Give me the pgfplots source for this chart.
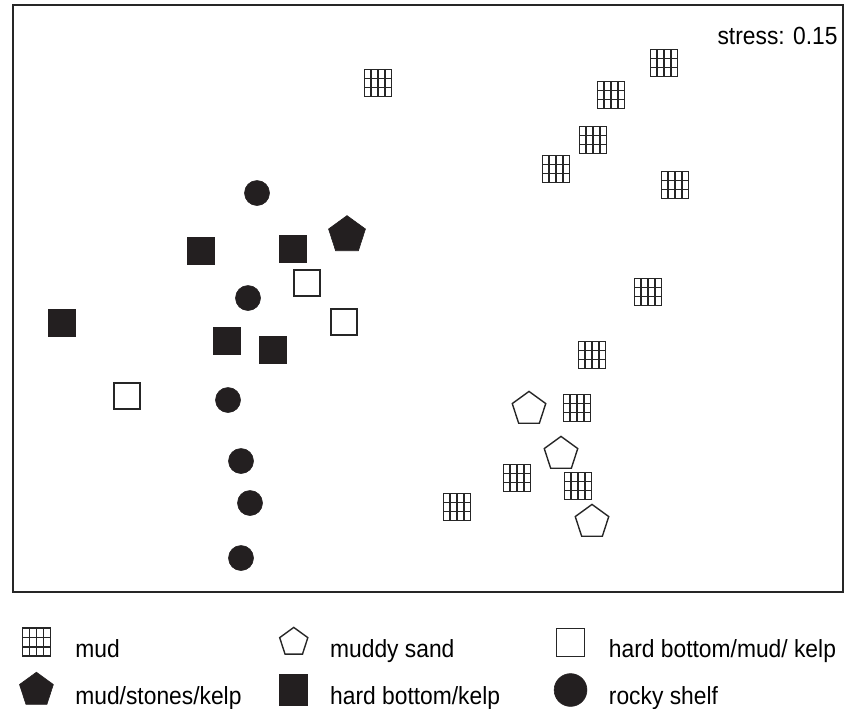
\documentclass[border=0pt]{standalone}
\usepackage{fontspec}
\setmainfont[FakeStretch=0.92]{Liberation Sans}
\usepackage{pgfplots}
\pgfplotsset{compat=1.18}
\definecolor{ink}{RGB}{35,31,32}
\pgfdeclareplotmark{gridsq}{%
  \pgfpathrectangle{\pgfpoint{-\pgfplotmarksize}{-\pgfplotmarksize}}{\pgfpoint{2\pgfplotmarksize}{2\pgfplotmarksize}}%
  \pgfpathmoveto{\pgfpoint{-0.5\pgfplotmarksize}{-\pgfplotmarksize}}\pgfpathlineto{\pgfpoint{-0.5\pgfplotmarksize}{\pgfplotmarksize}}%
  \pgfpathmoveto{\pgfpoint{0pt}{-\pgfplotmarksize}}\pgfpathlineto{\pgfpoint{0pt}{\pgfplotmarksize}}%
  \pgfpathmoveto{\pgfpoint{0.5\pgfplotmarksize}{-\pgfplotmarksize}}\pgfpathlineto{\pgfpoint{0.5\pgfplotmarksize}{\pgfplotmarksize}}%
  \pgfpathmoveto{\pgfpoint{-\pgfplotmarksize}{-0.3333\pgfplotmarksize}}\pgfpathlineto{\pgfpoint{\pgfplotmarksize}{-0.3333\pgfplotmarksize}}%
  \pgfpathmoveto{\pgfpoint{-\pgfplotmarksize}{0.3333\pgfplotmarksize}}\pgfpathlineto{\pgfpoint{\pgfplotmarksize}{0.3333\pgfplotmarksize}}%
  \pgfusepathqstroke
}
\pgfplotsset{
  lg/.style 2 args={legend image code/.code={\draw[##1, mark size=#1] plot coordinates {(0pt,#2)};}},
  lgrect/.style={legend image code/.code={\fill[ink] (-7pt,-0.45pt) rectangle (7pt,15.05pt);}},
}
\begin{document}
\begin{tikzpicture}
\begin{axis}[
  name=ax,
  scale only axis, width=415pt, height=293.5pt,
  xmin=13, xmax=843, ymin=5, ymax=592, y dir=reverse,
  xtick=\empty, ytick=\empty,
  axis line style={line width=0.7pt, black!85},
  clip=false,
  legend columns=3,
  legend style={draw=none, fill=none, inner sep=0pt, outer sep=0pt,
    at={(axis cs:19.5,627.4)}, anchor=north west,
    font=\fontsize{12.4}{14}\selectfont,
    row sep=4pt,
    cells={anchor=base west, inner sep=0pt},
    /tikz/every odd column/.append style={column sep=9pt},
    /tikz/every even column/.append style={column sep=9pt}},
]
\addplot[only marks, mark=gridsq, mark size=6.8pt, mark options={draw=black!85, line width=0.75pt}, lg={7pt}{7.5pt}]
  coordinates {(378,83) (664,63) (611,95) (593,140) (556,169) (675,185) (648,292) (592,355) (577,408) (517,478) (578,486) (457,507)};
\addlegendentry{\makebox[91pt][l]{mud}}
\addplot[only marks, mark=pentagon, mark size=8.8pt, mark options={draw=black!85, fill=white, line width=0.7pt}, lg={7.4pt}{7.5pt}]
  coordinates {(529,409) (561,454) (592,522)};
\addlegendentry{\makebox[101pt][l]{muddy sand}}
\addplot[only marks, mark=square, mark size=6.5pt, mark options={draw=black!85, fill=white, line width=0.7pt}, lg={7pt}{7.5pt}]
  coordinates {(307,283) (344,322) (127,396)};
\addlegendentry{hard bottom/mud/ kelp}
\addplot[only marks, mark=pentagon*, mark size=9.7pt, mark options={draw=ink, fill=ink, line width=0.3pt}, lg={8.9pt}{7.3pt}]
  coordinates {(347,235)};
\addlegendentry{\makebox[91pt][l]{mud/stones/kelp}}
\addplot[only marks, mark=square*, mark size=6.7pt, mark options={draw=ink, fill=ink, line width=0.3pt}, lgrect]
  coordinates {(201,251) (293,249) (62,323) (227,341) (273,350)};
\addlegendentry{\makebox[101pt][l]{hard bottom/kelp}}
\addplot[only marks, mark=*, mark size=6.25pt, mark options={draw=ink, fill=ink, line width=0.3pt}, lg={8.2pt}{7.3pt}]
  coordinates {(257,193) (248,298) (228,400) (241,461) (250,503) (241,558)};
\addlegendentry{rocky shelf}
\node[anchor=base east, font=\fontsize{12.4}{14}\selectfont, inner sep=0pt] at (axis cs:838,44) {stress: 0.15};
\coordinate (bl) at (axis cs:0,708);
\coordinate (tr) at (axis cs:845,0);
\end{axis}
\pgfresetboundingbox
\path[use as bounding box] (bl) rectangle (tr);
\end{tikzpicture}
\end{document}
